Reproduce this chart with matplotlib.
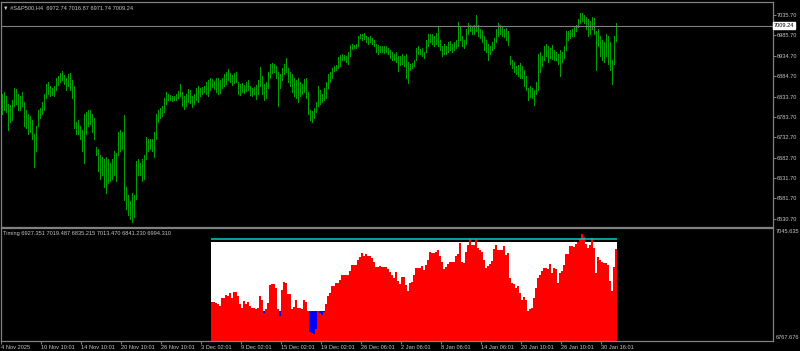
import matplotlib
matplotlib.use("Agg")
import matplotlib.pyplot as plt
import numpy as np

# ---------------- data ----------------
symbol_header = "\u25BC #S&P500,H4  6972.74 7016.87 6971.74 7009.24"
timing_header = "Timing 6927.351 7019.487 6835.215 7013.470 6841.230 6994.310"
last_price = 7009.24

highs = [
    6840, 6846, 6835, 6815, 6812, 6825, 6855, 6852, 6840, 6835,
    6845, 6820, 6800, 6790, 6785, 6775, 6740, 6760, 6800, 6805,
    6820, 6840, 6865, 6870, 6860, 6855, 6860, 6880, 6885, 6893,
    6898, 6888, 6880, 6890, 6893, 6875, 6860, 6770, 6775, 6760,
    6750, 6790, 6795, 6800, 6800, 6790, 6780, 6710, 6705, 6690,
    6685, 6680, 6685, 6680, 6670, 6680, 6700, 6695, 6745, 6750,
    6745, 6788, 6610, 6590, 6575, 6595, 6590, 6675, 6680, 6670,
    6680, 6690, 6735, 6730, 6728, 6730, 6745, 6790, 6800, 6805,
    6810, 6830, 6845, 6840, 6838, 6835, 6836, 6840, 6848, 6865,
    6845, 6835, 6840, 6853, 6850, 6835, 6840, 6855, 6860, 6855,
    6858, 6860, 6870, 6875, 6880, 6878, 6872, 6880, 6880, 6875,
    6880, 6890, 6895, 6903, 6893, 6888, 6892, 6895, 6870, 6865,
    6868, 6862, 6870, 6875, 6860, 6855, 6858, 6862, 6875, 6908,
    6885, 6865, 6870, 6895, 6915, 6918, 6915, 6910, 6895, 6890,
    6905, 6915, 6930, 6905, 6895, 6890, 6880, 6875, 6880, 6870,
    6865, 6878, 6880, 6845, 6800, 6798, 6805, 6820, 6860, 6850,
    6840, 6855, 6870, 6890, 6895, 6905, 6910, 6912, 6932, 6938,
    6940, 6938, 6935, 6945, 6962, 6965, 6962, 6965, 6985, 6990,
    6988, 6992, 6985, 6982, 6985, 6980, 6975, 6965, 6962, 6958,
    6960, 6958, 6960, 6955, 6950, 6945, 6940, 6945, 6935, 6935,
    6940, 6935, 6940, 6920, 6915, 6918, 6925, 6955, 6960, 6952,
    6955, 6945, 6975, 6990, 6990, 6988, 6985, 6992, 7005, 6975,
    6960, 6965, 6960, 6970, 6972, 6965, 6970, 6975, 7019, 7005,
    6985, 6975, 7000, 7015, 7010, 7005, 7010, 7036, 7010, 7000,
    6998, 6985, 6975, 6965, 6960, 6970, 6980, 7000, 7015, 7010,
    7005, 7000, 7003, 6995, 6935, 6925, 6920, 6910, 6912, 6918,
    6910, 6900, 6885, 6855, 6860, 6855, 6850, 6870, 6940, 6945,
    6935, 6960, 6965, 6960, 6955, 6962, 6950, 6945, 6940, 6950,
    6945, 6960, 6995, 6995, 6998, 7000, 7005, 7010, 7025, 7040,
    7042, 7035, 7030, 7025, 7020, 7030, 7028, 6995, 7000, 6985,
    6975, 6970, 6990, 6985, 6970, 6925, 6985, 7016.87,
]

lows = [
    6790, 6800, 6795, 6750, 6770, 6775, 6810, 6815, 6800, 6800,
    6810, 6760, 6755, 6740, 6745, 6730, 6660, 6700, 6760, 6780,
    6790, 6800, 6830, 6840, 6835, 6838, 6835, 6850, 6862, 6870,
    6875, 6865, 6850, 6860, 6850, 6830, 6755, 6740, 6740, 6730,
    6700, 6670, 6740, 6760, 6765, 6745, 6730, 6690, 6650, 6630,
    6640, 6610, 6595, 6620, 6625, 6630, 6640, 6625, 6690, 6700,
    6705, 6578, 6555, 6540, 6530, 6524, 6535, 6580, 6640, 6640,
    6625, 6630, 6680, 6700, 6705, 6700, 6685, 6730, 6770, 6780,
    6785, 6795, 6815, 6825, 6825, 6823, 6825, 6825, 6830, 6835,
    6810, 6803, 6810, 6820, 6818, 6808, 6815, 6825, 6820, 6835,
    6840, 6845, 6840, 6835, 6850, 6858, 6852, 6845, 6840, 6842,
    6855, 6860, 6865, 6875, 6870, 6862, 6868, 6870, 6840, 6837,
    6845, 6842, 6848, 6850, 6838, 6835, 6840, 6828, 6840, 6860,
    6840, 6825, 6830, 6855, 6880, 6893, 6895, 6880, 6810, 6855,
    6875, 6890, 6895, 6870, 6860, 6845, 6835, 6830, 6820, 6835,
    6840, 6845, 6830, 6790, 6775, 6770, 6780, 6795, 6810, 6815,
    6820, 6825, 6830, 6855, 6870, 6880, 6898, 6900, 6905, 6910,
    6925, 6925, 6920, 6915, 6935, 6952, 6955, 6955, 6960, 6978,
    6975, 6977, 6970, 6965, 6970, 6965, 6960, 6945, 6940, 6945,
    6945, 6942, 6945, 6940, 6930, 6925, 6925, 6920, 6896, 6912,
    6915, 6910, 6880, 6867, 6900, 6905, 6910, 6925, 6940, 6940,
    6935, 6930, 6945, 6960, 6970, 6965, 6960, 6965, 6960, 6950,
    6935, 6940, 6940, 6945, 6950, 6945, 6950, 6955, 6960, 6975,
    6960, 6953, 6965, 6990, 6995, 6990, 6990, 6995, 6985, 6980,
    6970, 6950, 6945, 6925, 6940, 6950, 6955, 6970, 6985, 6990,
    6985, 6982, 6975, 6962, 6915, 6905, 6895, 6890, 6885, 6880,
    6880, 6860, 6850, 6825, 6832, 6830, 6813, 6840, 6850, 6895,
    6910, 6925, 6935, 6920, 6930, 6928, 6925, 6925, 6915, 6885,
    6920, 6930, 6950, 6975, 6980, 6985, 6985, 6995, 7005, 7015,
    7020, 7015, 7000, 6985, 6990, 7000, 6990, 6900, 6960, 6935,
    6925, 6920, 6935, 6915, 6900, 6865, 6915, 6971.74,
]

timing_start = 105
timing = [
    6863, 6863, 6860, 6859, 6853, 6873, 6873, 6880, 6878, 6886,
    6873, 6888, 6888, 6878, 6857, 6847, 6865, 6857, 6864, 6854,
    6847, 6847, 6845, 6847, 6879, 6869, 6836, 6845, 6861, 6905,
    6908, 6907, 6897, 6845, 6828, 6894, 6913, 6911, 6884, 6884,
    6846, 6851, 6869, 6848, 6848, 6846, 6869, 6863, 6840, 6787,
    6786, 6782, 6795, 6840, 6836, 6830, 6838, 6857, 6878, 6886,
    6904, 6904, 6911, 6911, 6919, 6931, 6931, 6930, 6930, 6941,
    6956, 6956, 6956, 6969, 6975, 6985, 6979, 6983, 6979, 6979,
    6974, 6964, 6950, 6950, 6954, 6950, 6950, 6950, 6946, 6938,
    6931, 6923, 6938, 6915, 6909, 6926, 6926, 6905, 6890, 6911,
    6913, 6931, 6948, 6948, 6948, 6954, 6944, 6956, 6967, 6988,
    6985, 6985, 6989, 6992, 6977, 6963, 6946, 6950, 6958, 6963,
    6963, 6964, 6977, 6983, 7010, 6964, 6960, 6989, 7006, 7020,
    7006, 7006, 7020, 6998, 6992, 6989, 6969, 6948, 6952, 6958,
    6966, 6996, 7006, 6992, 6992, 6993, 7004, 6981, 6985, 6923,
    6911, 6907, 6898, 6904, 6886, 6869, 6875, 6868, 6840, 6845,
    6849, 6873, 6898, 6923, 6931, 6940, 6948, 6948, 6946, 6958,
    6936, 6948, 6945, 6911, 6936, 6940, 6956, 6983, 6983, 7002,
    7002, 7000, 7008, 7012, 7020, 7033, 7026, 7008, 6998, 7006,
    7022, 6998, 6936, 6975, 6969, 6963, 6960, 6960, 6956, 6915,
    6890, 6950, 6994.31,
]
timing_cap = 7013.47
timing_line = 7019.487
timing_level = 6841.23

price_ticks = [7035.70, 6985.70, 6934.70, 6884.70, 6833.70, 6783.70,
               6732.70, 6682.70, 6631.70, 6581.70, 6530.70]
sub_max_label = "7045.635"
sub_min_label = "6767.676"

date_labels = ["4 Nov 2025", "10 Nov 10:01", "14 Nov 10:01", "20 Nov 10:01",
               "26 Nov 10:01", "3 Dec 02:01", "9 Dec 02:01", "15 Dec 02:01",
               "19 Dec 02:01", "26 Dec 06:01", "2 Jan 06:01", "8 Jan 06:01",
               "14 Jan 06:01", "20 Jan 10:01", "26 Jan 10:01", "30 Jan 16:01"]
date_positions = [-0.5 + 20 * k for k in range(len(date_labels))]

# ---------------- style ----------------
BG = "#000000"
FRAME = "#808080"
TXT = "#c8c8c8"
FONT = ["Liberation Sans", "DejaVu Sans"]
FS = 4.1

plt.rcParams["font.family"] = FONT

W, H = 800, 351
fig = plt.figure(figsize=(W / 100, H / 100), dpi=100, facecolor=BG)

def fax(l, t, r, b):
    return [l / W, 1 - b / H, (r - l) / W, (b - t) / H]

ax = fig.add_axes(fax(1, 2, 773, 227), facecolor=BG)
ax2 = fig.add_axes(fax(1, 228, 773, 341), facecolor=BG)

xmin, xmax = -0.5, 385.5
for a in (ax, ax2):
    a.set_xlim(xmin, xmax)
    for s in a.spines.values():
        s.set_color(FRAME)
        s.set_linewidth(0.9)

# ---- main price panel ----
idx = np.arange(len(highs))
ax.vlines(idx, lows, highs, color="#00a000", linewidth=0.72, antialiased=False)
ax.set_ylim(6511.0, 7068.0)
ax.axhline(last_price, color=FRAME, linewidth=0.8)
ax.set_xticks([])
ax.yaxis.tick_right()
ax.set_yticks(price_ticks)
ax.set_yticklabels(["%.2f" % v for v in price_ticks])
ax.tick_params(axis="y", colors=FRAME, labelcolor=TXT, labelsize=FS,
               length=1.8, width=0.7, pad=1)
ax.text(1.001, (last_price - 6511.0) / (7068.0 - 6511.0), "%.2f" % last_price,
        transform=ax.transAxes, ha="left", va="center", fontsize=FS,
        color="black",
        bbox=dict(boxstyle="square,pad=0.15", fc="white", ec="white"))
ax.text(0.003, 0.985, symbol_header, transform=ax.transAxes, ha="left",
        va="top", fontsize=FS, color=TXT, family=FONT)

# ---- timing sub panel ----
y0 = 6767.676 - 2.48
y1 = 7045.635 + 2.48
ax2.set_ylim(y0, y1)
t_idx = np.arange(timing_start, timing_start + len(timing))
tv = np.array(timing, dtype=float)
ax2.bar(t_idx, np.full(len(t_idx), timing_cap - y0), bottom=y0, width=1.0,
        color="white", linewidth=0, antialiased=False)
ax2.bar(t_idx, np.full(len(t_idx), timing_level - y0), bottom=y0, width=1.0,
        color="#0000ff", linewidth=0, antialiased=False)
ax2.hlines(timing_line, t_idx[0] - 0.5, t_idx[-1] + 0.5, color="#00CED1",
           linewidth=1.1)
ax2.bar(t_idx, tv - y0, bottom=y0, width=1.0, color="#ff0000", linewidth=0,
        antialiased=False)
ax2.set_yticks([])
ax2.text(0.003, 0.975, timing_header, transform=ax2.transAxes, ha="left",
         va="top", fontsize=FS, color=TXT)
ax2.text(1.003, 1.0 - 0.01, sub_max_label, transform=ax2.transAxes, ha="left",
         va="top", fontsize=FS, color=TXT)
ax2.text(1.003, 0.01, sub_min_label, transform=ax2.transAxes, ha="left",
         va="bottom", fontsize=FS, color=TXT)

ax2.set_xticks(date_positions)
ax2.set_xticklabels(date_labels)
ax2.tick_params(axis="x", colors=FRAME, labelcolor=TXT, labelsize=FS,
                length=2.2, width=0.7, pad=0.5)
for lab in ax2.get_xticklabels():
    lab.set_horizontalalignment("left")

fig.savefig("out.png", dpi=100, facecolor=BG)
